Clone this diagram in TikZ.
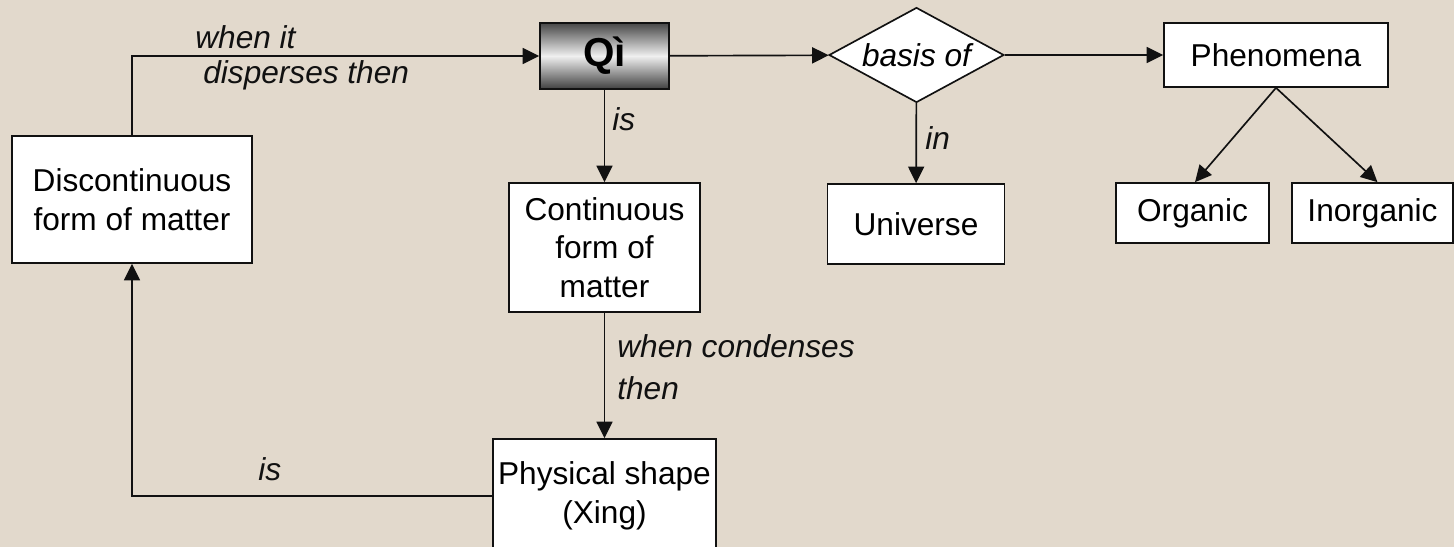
\documentclass[tikz,border=0pt]{standalone}
\usepackage{fontspec}
\setmainfont{Liberation Sans}
\usepackage{tikz}
\usetikzlibrary{arrows.meta,shapes.geometric}
\definecolor{paper}{HTML}{E2D9CC}
\definecolor{qink}{HTML}{111111}

\begin{document}
\begin{tikzpicture}[x=0.02cm,y=-0.02cm,>={Triangle[length=0.33cm,width=0.32cm]},
  box/.style={draw=qink,line width=0.95pt,fill=white,align=center,inner sep=2pt,
              font=\fontsize{18}{22}\selectfont},
  qibox/.style={box,top color=black!72,bottom color=black!75,middle color=white!94!black,
              font=\fontsize{23}{26}\selectfont\bfseries},
  rhomb/.style={box,diamond,inner sep=0pt,shape aspect=1.84,
              font=\fontsize{18}{22}\selectfont\itshape},
  lbl/.style={inner sep=0pt,align=left,text=qink,font=\fontsize{18}{20}\selectfont\itshape},
  link/.style={->,line width=0.95pt,draw=qink}]

\fill[paper] (0,0) rectangle (1454,547);
\useasboundingbox (0,0) rectangle (1454,547);

\node[box,minimum width=4.8cm,minimum height=2.54cm] (disc) at (132,199.5) {Discontinuous\\form of matter};
\node[qibox,minimum width=2.58cm,minimum height=1.32cm] (qi) at (604.5,56) {Qì};
\node[box,minimum width=3.82cm,minimum height=2.58cm] (cont) at (604.5,247.5) {Continuous\\form of\\matter};
\node[box,minimum width=4.46cm,minimum height=2.28cm] (phys) at (604.5,496) {Physical shape\\(Xing)};
\node[rhomb,minimum width=3.5cm,minimum height=1.9cm] (basis) at (916.5,55) {basis of};
\node[box,minimum width=3.54cm,minimum height=1.6cm] (univ) at (916,224) {Universe};
\node[box,minimum width=4.48cm,minimum height=1.28cm] (phen) at (1276,55) {Phenomena};
\node[box,minimum width=3.06cm,minimum height=1.2cm] (org) at (1192.5,213) {Organic};
\node[box,minimum width=3.22cm,minimum height=1.2cm] (inorg) at (1372.5,213) {Inorganic};

\draw[link] (disc.north) |- (qi.west);
\draw[link] (phys.west) -| (disc.south);
\foreach \a/\b in {qi/cont,cont/phys,qi/basis,basis/phen,basis/univ}
  \draw[link] (\a) -- (\b);
\draw[link] (phen.south) -- ([xshift=0.05cm]org.north);
\draw[link] (phen.south) -- ([xshift=0.1cm]inorg.north);

\node[lbl,anchor=north west] (disperse) at (195,25) {when it\\\hspace*{0.16cm}disperses then};
\node[lbl,anchor=base west] (isqi) at (612,131) {is};
\node[lbl,anchor=base west] (inu) at (925,150) {in};
\node[lbl,anchor=north west,font=\fontsize{18}{24}\selectfont\itshape] (condense) at (617,334) {when condenses\\then};
\node[lbl,anchor=base west] (isphys) at (258,480) {is};
\end{tikzpicture}
\end{document}
